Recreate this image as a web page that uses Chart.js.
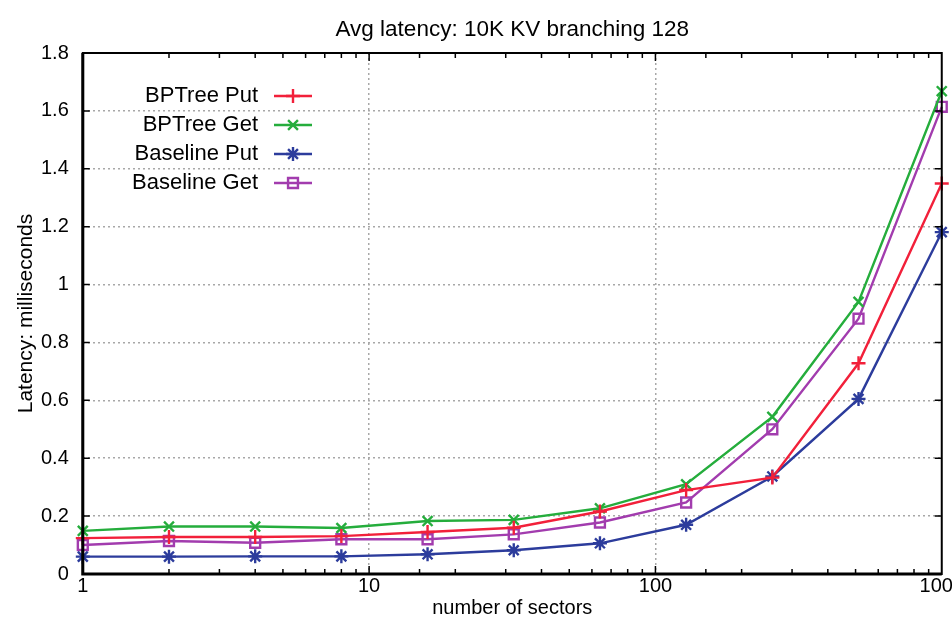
<!DOCTYPE html>
<html>
<head>
<meta charset="utf-8">
<script src="https://cdn.jsdelivr.net/npm/chart.js@4.4.1/dist/chart.umd.min.js"></script>
<style>
  html, body { margin: 0; padding: 0; background: #fff; overflow: hidden; }
  #wrap { width: 966px; height: 618px; }
</style>
</head>
<body>
<div id="wrap"><canvas id="chart"></canvas></div>
<script>
// number of sectors
var sectors = [1, 2, 4, 8, 16, 32, 64, 128, 256, 512, 1000];

// latency in milliseconds
var bptreePut   = [0.124, 0.128, 0.128, 0.131, 0.145, 0.160, 0.216, 0.290, 0.333, 0.728, 1.349];
var bptreeGet   = [0.149, 0.164, 0.164, 0.159, 0.183, 0.187, 0.227, 0.310, 0.543, 0.940, 1.668];
var baselinePut = [0.060, 0.060, 0.061, 0.061, 0.068, 0.082, 0.106, 0.170, 0.337, 0.605, 1.181];
var baselineGet = [0.100, 0.114, 0.108, 0.120, 0.120, 0.137, 0.178, 0.247, 0.500, 0.882, 1.614];

var yTicks = [0, 0.2, 0.4, 0.6, 0.8, 1, 1.2, 1.4, 1.6, 1.8];
var xMajor = [1, 10, 100, 1000];

var titleText = "Avg latency: 10K KV branching 128";
var yTitleText = "Latency: milliseconds";
var FONT = "'Liberation Sans', Arial, sans-serif";

function pts(arr) {
  return arr.map(function (v, i) { return { x: sectors[i], y: v }; });
}

function ds(label, arr, color, style) {
  return {
    label: label,
    data: pts(arr),
    borderColor: color,
    backgroundColor: "rgba(0,0,0,0)",
    borderWidth: 2.4,
    pointStyle: style,
    pointRadius: 7,
    pointBorderWidth: 2.4,
    pointBorderColor: color,
    pointBackgroundColor: "rgba(0,0,0,0)",
    tension: 0,
    clip: 10
  };
}

///frame, ticks, titles and legend
var gnuplotLook = {
  id: "gnuplotLook",
  afterDraw: function (chart) {
    var c = chart.ctx, a = chart.chartArea;
    var xs = chart.scales.x, ys = chart.scales.y;
    c.save();
    c.strokeStyle = "#000";
    // minor + major ticks on x, inside top and bottom
    c.lineWidth = 1.5;
    xs.ticks.forEach(function (t) {
      var px = xs.getPixelForValue(t.value);
      if (px <= a.left + 1 || px >= a.right - 1) return;
      var major = xMajor.indexOf(t.value) >= 0;
      var len = major ? 8 : 5;
      c.beginPath();
      c.moveTo(px, a.bottom); c.lineTo(px, a.bottom - len);
      c.moveTo(px, a.top); c.lineTo(px, a.top + len);
      c.stroke();
    });
    // y ticks inside left and right
    yTicks.forEach(function (v) {
      var py = ys.getPixelForValue(v);
      c.beginPath();
      c.moveTo(a.left, py); c.lineTo(a.left + 7, py);
      c.moveTo(a.right, py); c.lineTo(a.right - 7, py);
      c.stroke();
    });
    // frame
    c.lineWidth = 2;
    c.strokeRect(a.left, a.top, a.right - a.left, a.bottom - a.top);
    c.lineWidth = 3;
    c.beginPath();
    c.moveTo(a.left, a.top); c.lineTo(a.left, a.bottom); c.lineTo(a.right, a.bottom);
    c.stroke();

    // title centred over the plot
    c.fillStyle = "#000";
    c.font = "22.5px " + FONT;
    c.textAlign = "center";
    c.textBaseline = "middle";
    c.fillText(titleText, (a.left + a.right) / 2, 30);

    // y axis title
    c.save();
    c.translate(26, (a.top + a.bottom) / 2);
    c.rotate(-Math.PI / 2);
    c.font = "21px " + FONT;
    c.fillText(yTitleText, 0, 0);
    c.restore();

    // legend: text right aligned, sample on the right
    var rows = [96, 125, 154, 183];
    c.font = "22px " + FONT;
    c.textAlign = "right";
    chart.data.datasets.forEach(function (d, i) {
      var y = rows[i];
      c.fillStyle = "#000";
      c.fillText(d.label, 258, y);
      c.strokeStyle = d.borderColor;
      c.lineWidth = 2.6;
      c.beginPath();
      c.moveTo(274, y); c.lineTo(312, y);
      c.stroke();
      c.fillStyle = "rgba(0,0,0,0)";
      c.lineWidth = 2.4;
      Chart.helpers.drawPoint(c, { pointStyle: d.pointStyle, radius: 7, borderWidth: 2.4, rotation: 0 }, 293, y);
    });
    c.restore();
  }
};

var ctx = document.getElementById("chart");
var mychart = new Chart(ctx, {
  type: "line",
  data: {
    datasets: [
      ds("BPTree Put", bptreePut, "#f2203a", "cross"),
      ds("BPTree Get", bptreeGet, "#25ad3c", "crossRot"),
      ds("Baseline Put", baselinePut, "#2c3c9c", "star"),
      ds("Baseline Get", baselineGet, "#a23cae", "rect")
    ]
  },
  options: {
    responsive: true,
    maintainAspectRatio: false,
    animation: false,
    layout: { padding: { top: 53, left: 27, right: 0, bottom: 0 } },
    plugins: {
      legend: { display: false },
      title: { display: false },
      tooltip: { enabled: false }
    },
    scales: {
      x: {
        type: "logarithmic",
        min: 1,
        max: 1000,
        border: { display: false, dash: [2, 3] },
        grid: {
          drawTicks: false,
          color: function (c) {
            var v = c.tick && c.tick.value;
            return (v === 10 || v === 100) ? "#a8a8a8" : "rgba(0,0,0,0)";
          },
          lineWidth: 1.5
        },
        ticks: {
          color: "#000",
          padding: 2,
          maxRotation: 0,
          autoSkip: false,
          font: { family: FONT, size: 20, lineHeight: 1 },
          callback: function (v) {
            return xMajor.indexOf(v) >= 0 ? String(v) : "";
          }
        },
        title: {
          display: true,
          text: "number of sectors",
          color: "#000",
          font: { family: FONT, size: 20, lineHeight: 1 },
          padding: { top: 0, bottom: 0 }
        }
      },
      y: {
        min: 0,
        max: 1.8,
        border: { display: false, dash: [2, 3] },
        afterBuildTicks: function (s) {
          s.ticks = yTicks.map(function (v) { return { value: v }; });
        },
        grid: {
          drawTicks: false,
          color: function (c) {
            var v = c.tick && c.tick.value;
            return (v > 0 && v < 1.8) ? "#a8a8a8" : "rgba(0,0,0,0)";
          },
          lineWidth: 1.5
        },
        ticks: {
          color: "#000",
          padding: 14,
          font: { family: FONT, size: 20 },
          callback: function (v) {
            return String(Math.round(v * 10) / 10);
          }
        }
      }
    }
  },
  plugins: [gnuplotLook]
});
</script>
</body>
</html>
